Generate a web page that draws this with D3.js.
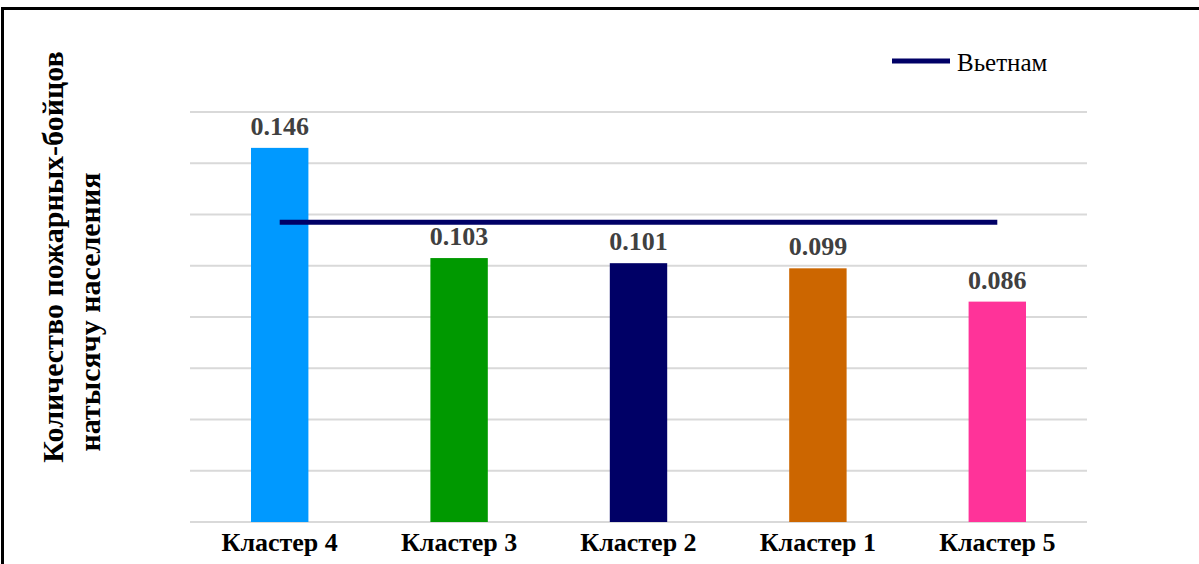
<!DOCTYPE html>
<html><head><meta charset="utf-8">
<script src="https://cdn.jsdelivr.net/npm/d3@7"></script>
<style>body{margin:0;background:#fff;}svg{display:block;} text{font-family:"Liberation Serif","Times New Roman",serif;}</style>
</head><body>
<svg id="c" width="1199" height="564"></svg>
<script>
const categories = ["Кластер 4","Кластер 3","Кластер 2","Кластер 1","Кластер 5"];
const values = [0.146, 0.103, 0.101, 0.099, 0.086];
const colors = ["#0099FF","#009900","#000066","#CC6600","#FF3399"];
const vietnam = 0.117;
const yTicks = [0,0.02,0.04,0.06,0.08,0.10,0.12,0.14,0.16];
const legendLabel = "Вьетнам";
const yTitle = ["Количество пожарных-бойцов","натысячу населения"];

const svg = d3.select("#c");
svg.append("rect").attr("x",2.5).attr("y",8.5).attr("width",1300).attr("height",700)
  .attr("fill","none").attr("stroke","#000").attr("stroke-width",3);

const x = d3.scaleBand().domain(categories).range([190,1087]).paddingInner(0.68).paddingOuter(0.34);
const y = d3.scaleLinear().domain([0,0.16]).range([522,112]);

svg.append("g").selectAll("line").data(yTicks).join("line")
  .attr("x1",190).attr("x2",1087).attr("y1",d=>y(d)).attr("y2",d=>y(d))
  .attr("stroke","#d9d9d9").attr("stroke-width",2);

svg.append("g").selectAll("rect").data(values).join("rect")
  .attr("x",(d,i)=>x(categories[i])).attr("width",x.bandwidth())
  .attr("y",d=>y(d)).attr("height",d=>y(0)-y(d)).attr("fill",(d,i)=>colors[i]);

svg.append("g").selectAll("text").data(values).join("text")
  .attr("x",(d,i)=>x(categories[i])+x.bandwidth()/2).attr("y",d=>y(d)-13)
  .attr("text-anchor","middle").attr("font-weight","bold")
  .attr("font-size",26).attr("fill","#404040").text(d=>d.toFixed(3));

const xc = c=>x(c)+x.bandwidth()/2;
svg.append("line").attr("x1",xc(categories[0])).attr("x2",xc(categories[categories.length-1]))
  .attr("y1",y(vietnam)).attr("y2",y(vietnam)).attr("stroke","#000066").attr("stroke-width",5);

svg.append("g").selectAll("text").data(categories).join("text")
  .attr("x",d=>xc(d)).attr("y",551).attr("text-anchor","middle")
  .attr("font-weight","bold").attr("font-size",26)
  .attr("fill","#000").text(d=>d);

svg.append("line").attr("x1",892).attr("x2",950).attr("y1",61).attr("y2",61)
  .attr("stroke","#000066").attr("stroke-width",5);
svg.append("text").attr("x",957).attr("y",71)
  .attr("font-size",25).attr("fill","#000").text(legendLabel);

svg.append("text").attr("transform","translate(63,257) rotate(-90)").attr("text-anchor","middle")
  .attr("font-weight","bold").attr("font-size",30).text(yTitle[0]);
svg.append("text").attr("transform","translate(100,312) rotate(-90)").attr("text-anchor","middle")
  .attr("font-weight","bold").attr("font-size",30).text(yTitle[1]);
</script>
</body></html>
